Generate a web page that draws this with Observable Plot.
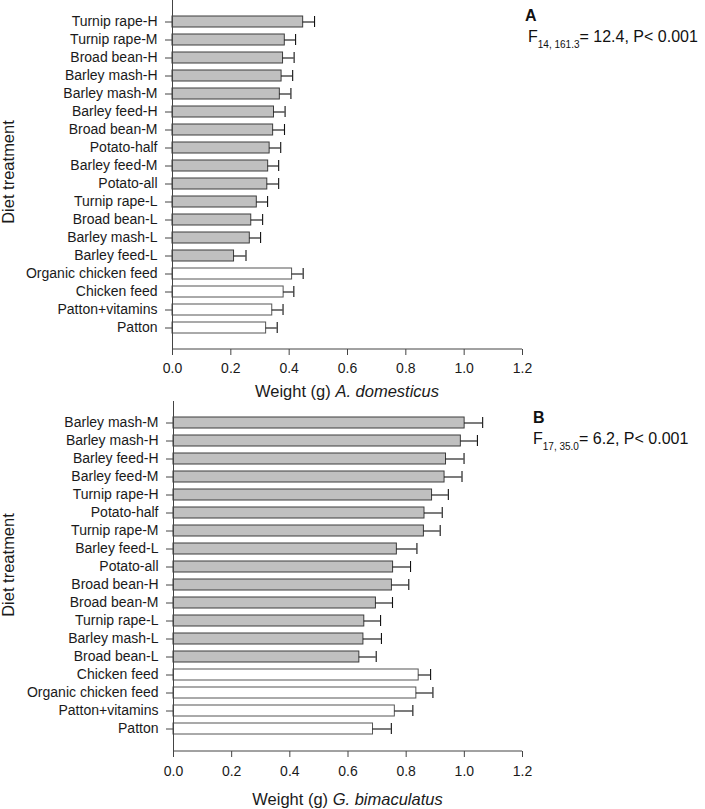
<!DOCTYPE html>
<html>
<head>
<meta charset="utf-8">
<script src="https://cdn.jsdelivr.net/npm/d3@7"></script>
<script src="https://cdn.jsdelivr.net/npm/@observablehq/plot@0.6"></script>
<style>
  body { margin: 0; background: white; }
  #wrap { position: relative; width: 705px; height: 809px; background: white; overflow: hidden; }
  #wrap svg { position: absolute; left: 0; }
</style>
</head>
<body>
<div id="wrap"></div>
<script>
// ---- Data ----
const xTicks = [0, 0.2, 0.4, 0.6, 0.8, 1.0, 1.2];
const controlDiets = ["Organic chicken feed", "Chicken feed", "Patton+vitamins", "Patton"];

// Panel A: Acheta domesticus
const catsA = ["Turnip rape-H", "Turnip rape-M", "Broad bean-H", "Barley mash-H", "Barley mash-M",
  "Barley feed-H", "Broad bean-M", "Potato-half", "Barley feed-M", "Potato-all", "Turnip rape-L",
  "Broad bean-L", "Barley mash-L", "Barley feed-L", "Organic chicken feed", "Chicken feed",
  "Patton+vitamins", "Patton"];
const meansA = [0.448, 0.385, 0.379, 0.374, 0.368, 0.348, 0.345, 0.333, 0.328, 0.325, 0.289,
  0.270, 0.265, 0.211, 0.410, 0.381, 0.342, 0.321];
const seA = [0.039, 0.037, 0.038, 0.038, 0.038, 0.038, 0.039, 0.038, 0.036, 0.039, 0.037,
  0.039, 0.037, 0.041, 0.038, 0.035, 0.037, 0.038];

// Panel B: Gryllus bimaculatus
const catsB = ["Barley mash-M", "Barley mash-H", "Barley feed-H", "Barley feed-M", "Turnip rape-H",
  "Potato-half", "Turnip rape-M", "Barley feed-L", "Potato-all", "Broad bean-H", "Broad bean-M",
  "Turnip rape-L", "Barley mash-L", "Broad bean-L", "Chicken feed", "Organic chicken feed",
  "Patton+vitamins", "Patton"];
const meansB = [1.001, 0.988, 0.937, 0.932, 0.889, 0.863, 0.861, 0.768, 0.755, 0.751, 0.696,
  0.656, 0.653, 0.639, 0.843, 0.835, 0.761, 0.686];
const seB = [0.062, 0.057, 0.062, 0.060, 0.056, 0.061, 0.056, 0.069, 0.060, 0.058, 0.057,
  0.056, 0.062, 0.058, 0.041, 0.057, 0.062, 0.063];

const FONT = "'Liberation Sans', Arial, Helvetica, sans-serif";

function panel(cfg) {
  const data = cfg.cats.map((c, i) => ({cat: c, mean: cfg.means[i], se: cfg.ses[i],
    control: controlDiets.includes(c)}));
  const plot = Plot.plot({
    width: 705,
    height: cfg.height,
    marginLeft: cfg.marginLeft,
    marginRight: 183,
    marginTop: 0,
    marginBottom: cfg.marginBottom,
    style: {fontFamily: FONT, fontSize: "14px", color: "#1a1a1a", background: "white", overflow: "visible"},
    x: {domain: [0, 1.2]},
    y: {domain: cfg.cats, paddingInner: 0.37, paddingOuter: 0.66},
    marks: [
      Plot.barX(data.filter(d => !d.control), {x: "mean", y: "cat", fill: "#c0c0c0", stroke: "#3c3c3c", strokeWidth: 1}),
      Plot.barX(data.filter(d => d.control), {x: "mean", y: "cat", fill: "white", stroke: "#555", strokeWidth: 1}),
      Plot.ruleY(data, {y: "cat", x1: "mean", x2: d => d.mean + d.se, stroke: "#111", strokeWidth: 1.1}),
      Plot.tickX(data, {y: "cat", x: d => d.mean + d.se, stroke: "#111", strokeWidth: 1.1}),
      Plot.ruleX([0], {stroke: "#444"}),
      Plot.axisX(xTicks, {tickSize: 6, tickPadding: cfg.xPad, tickFormat: d => d.toFixed(1), label: null, stroke: "#444", fontSize: 14}),
      Plot.axisY({tickSize: 7, tickPadding: 8, label: null, stroke: "#444", fontSize: 14})
    ]
  });
  const svg = d3.select(plot);
  const sx = plot.scale("x");
  const yb = cfg.height - cfg.marginBottom;
  svg.append("line")
    .attr("x1", sx.apply(0)).attr("x2", sx.apply(1.2))
    .attr("y1", yb).attr("y2", yb)
    .attr("stroke", "#444");
  // x-axis title with italic species name
  const t = svg.append("text")
    .attr("x", (sx.apply(0) + sx.apply(1.2)) / 2)
    .attr("y", cfg.titleY)
    .attr("text-anchor", "middle")
    .attr("font-family", FONT).attr("font-size", 16.5).attr("fill", "#1a1a1a");
  t.append("tspan").text("Weight (g) ");
  t.append("tspan").attr("font-style", "italic").text(cfg.species);
  // y-axis title
  svg.append("text")
    .attr("transform", `translate(14,${cfg.yTitleY}) rotate(-90)`)
    .attr("text-anchor", "middle")
    .attr("font-family", FONT).attr("font-size", 16.5).attr("fill", "#1a1a1a")
    .text("Diet treatment");
  // panel letter
  svg.append("text")
    .attr("x", cfg.letterX).attr("y", cfg.letterY)
    .attr("text-anchor", "start")
    .attr("font-family", FONT).attr("font-size", 16).attr("font-weight", "bold").attr("fill", "#111")
    .text(cfg.letter);
  const s = svg.append("text")
    .attr("x", cfg.statX).attr("y", cfg.statY)
    .attr("text-anchor", "start")
    .attr("font-family", FONT).attr("font-size", 16).attr("fill", "#111");
  s.append("tspan").text("F");
  s.append("tspan").attr("font-size", 10).attr("dy", 5.5).text(cfg.df);
  s.append("tspan").attr("dy", -5.5).text(cfg.stat);
  plot.style.top = cfg.top + "px";
  return plot;
}

const wrap = document.getElementById("wrap");
wrap.appendChild(panel({
  cats: catsA, means: meansA, ses: seA, height: 405, marginBottom: 56, marginLeft: 172,
  xPad: 8, titleY: 396.5, yTitleY: 172, species: "A. domesticus",
  letter: "A", letterX: 525, letterY: 21, statX: 528, statY: 42,
  df: "14, 161.3", stat: "= 12.4, P< 0.001", top: 0
}));
wrap.appendChild(panel({
  cats: catsB, means: meansB, ses: seB, height: 408, marginBottom: 58, marginLeft: 173,
  xPad: 9, titleY: 404, yTitleY: 164, species: "G. bimaculatus",
  letter: "B", letterX: 533, letterY: 22, statX: 533, statY: 43,
  df: "17, 35.0", stat: "= 6.2, P< 0.001", top: 401
}));
</script>
</body>
</html>
